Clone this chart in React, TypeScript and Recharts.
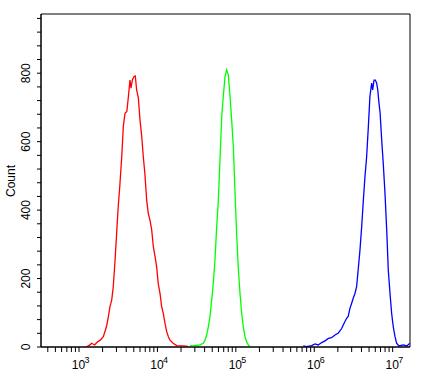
import React from "react";
import { LineChart, Line, XAxis, YAxis, ReferenceArea } from "recharts";

// x values are log10(fluorescence intensity)
const redLog = [3.09, 3.14, 3.16, 3.2, 3.226, 3.27, 3.31, 3.35, 3.374, 3.395, 3.417, 3.437, 3.46, 3.48, 3.5, 3.52, 3.545, 3.565, 3.587, 3.61, 3.63, 3.65, 3.663, 3.68, 3.7, 3.718, 3.735, 3.757, 3.778, 3.8, 3.82, 3.84, 3.863, 3.884, 3.905, 3.927, 3.948, 3.97, 3.99, 4.01, 4.033, 4.054, 4.075, 4.097, 4.118, 4.14, 4.16, 4.2, 4.246, 4.33, 4.39];
const redCount = [0, 6, 11, 6, 13, 20, 30, 59, 88, 118, 137, 176, 254, 332, 410, 469, 556, 644, 683, 688, 732, 780, 756, 780, 790, 792, 751, 727, 663, 615, 556, 507, 429, 390, 371, 342, 293, 264, 235, 186, 157, 118, 98, 69, 45, 30, 20, 11, 4, 3, 2];

const greenLog = [4.415, 4.457, 4.543, 4.585, 4.607, 4.628, 4.649, 4.67, 4.692, 4.713, 4.734, 4.756, 4.777, 4.798, 4.82, 4.84, 4.862, 4.883, 4.904, 4.926, 4.947, 4.968, 4.99, 5.01, 5.03, 5.053, 5.075, 5.095, 5.117, 5.138, 5.16, 5.18];
const greenCount = [4, 3, 6, 11, 20, 35, 59, 88, 137, 186, 254, 352, 429, 547, 673, 732, 790, 810, 795, 732, 663, 585, 449, 332, 235, 157, 98, 59, 30, 15, 6, 3];

const blueLog = [5.86, 5.9, 5.967, 6.01, 6.05, 6.095, 6.137, 6.18, 6.22, 6.265, 6.307, 6.35, 6.37, 6.39, 6.413, 6.434, 6.455, 6.477, 6.498, 6.52, 6.54, 6.56, 6.583, 6.605, 6.626, 6.647, 6.668, 6.69, 6.71, 6.732, 6.745, 6.762, 6.779, 6.796, 6.81, 6.826, 6.84, 6.86, 6.88, 6.902, 6.924, 6.944, 6.966, 6.987, 7.008, 7.03, 7.05, 7.08, 7.136, 7.18, 7.22];
const blueCount = [3, 1, 4, 9, 6, 13, 18, 25, 27, 35, 41, 54, 64, 74, 84, 90, 113, 128, 143, 157, 176, 225, 283, 352, 429, 498, 556, 644, 732, 771, 751, 780, 780, 771, 751, 712, 683, 605, 536, 449, 342, 225, 157, 98, 59, 30, 11, 3, 6, 3, 11];

const yTicks = [0, 40, 80, 120, 160, 200, 240, 280, 320, 360, 400, 440, 480, 520, 560, 600, 640, 680, 720, 760, 800, 840, 880, 920, 960];
const decades = [2, 3, 4, 5, 6, 7];
const mantissas = [1, 2, 3, 4, 5, 6, 7, 8, 9];

const XMIN = 2.5154;
const XMAX = 7.221;
const YMAX = 973;

const xTicks: number[] = [];
decades.forEach((e) =>
  mantissas.forEach((m) => {
    const v = e + Math.log10(m);
    if (v >= XMIN && v <= XMAX) xTicks.push(v);
  })
);

const toData = (xs: number[], ys: number[]) => xs.map((x, i) => ({ x, y: ys[i] }));
const redData = toData(redLog, redCount);
const greenData = toData(greenLog, greenCount);
const blueData = toData(blueLog, blueCount);

const FONT = "'Liberation Sans', Arial, sans-serif";

const XTick = (props: any) => {
  const { x, payload } = props;
  const v = payload.value;
  if (Math.abs(v - Math.round(v)) > 1e-9) return null;
  return (
    <g>
      <text x={x - 0.5} y={369} textAnchor="middle" fontFamily={FONT} fontSize={12} fill="#000">
        10
      </text>
      <text x={x + 5.5} y={363} textAnchor="start" fontFamily={FONT} fontSize={9} fill="#000">
        {Math.round(v)}
      </text>
    </g>
  );
};

const YTick = (props: any) => {
  const { y, payload } = props;
  if (payload.value % 200 !== 0) return null;
  return (
    <text transform={`translate(30, ${y}) rotate(-90)`} textAnchor="middle" fontFamily={FONT} fontSize={12} fill="#000">
      {payload.value}
    </text>
  );
};

const CountLabel = () => (
  <text transform="translate(15, 181) rotate(-90)" textAnchor="middle" fontFamily={FONT} fontSize={12} fill="#000">
    Count
  </text>
);

export default function App() {
  return (
    <div style={{ position: "absolute", left: 0, top: 0, background: "#fff" }}>
      <LineChart width={424} height={375} margin={{ top: 14, right: 14, left: 0, bottom: 0 }}>
        <XAxis
          type="number"
          dataKey="x"
          domain={[XMIN, XMAX]}
          ticks={xTicks}
          interval={0}
          allowDataOverflow
          height={28}
          tickSize={5}
          tick={<XTick />}
          axisLine={{ stroke: "#000" }}
          tickLine={{ stroke: "#000" }}
        />
        <YAxis
          type="number"
          dataKey="y"
          domain={[0, YMAX]}
          ticks={yTicks}
          interval={0}
          allowDataOverflow
          width={41}
          tickSize={4}
          tick={<YTick />}
          axisLine={{ stroke: "#000" }}
          tickLine={{ stroke: "#000" }}
          label={CountLabel}
        />
        <ReferenceArea x1={XMIN} x2={XMAX} y1={0} y2={YMAX} fill="none" stroke="#000" strokeWidth={1} ifOverflow="visible" />
        <Line data={redData} dataKey="y" type="linear" stroke="#ff0000" strokeWidth={1.3} dot={false} isAnimationActive={false} />
        <Line data={greenData} dataKey="y" type="linear" stroke="#00ff00" strokeWidth={1.3} dot={false} isAnimationActive={false} />
        <Line data={blueData} dataKey="y" type="linear" stroke="#0000ff" strokeWidth={1.3} dot={false} isAnimationActive={false} />
      </LineChart>
    </div>
  );
}
